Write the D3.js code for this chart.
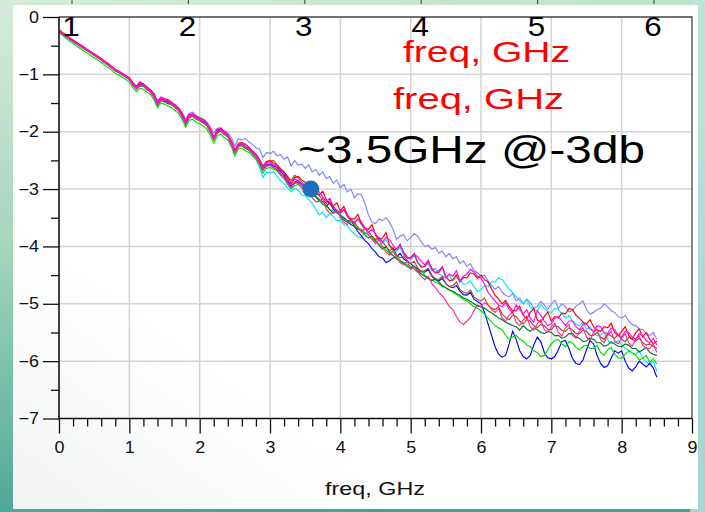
<!DOCTYPE html>
<html>
<head>
<meta charset="utf-8">
<script src="https://cdn.jsdelivr.net/npm/d3@7"></script>
<style>
  html, body { margin: 0; padding: 0; overflow: hidden; background: #ffffff; }
  svg { display: block; }
</style>
</head>
<body>
<svg id="chart" width="705" height="512"></svg>
<script>
// Swept frequency points, 0 to 8.5 GHz in 50 MHz steps
const freq = d3.range(0, 171).map(i => +(i * 0.05).toFixed(2));

const xTickValues = [0, 1, 2, 3, 4, 5, 6, 7, 8, 9];
const yTickValues = [0, -1, -2, -3, -4, -5, -6, -7];
const topNumbers = [1, 2, 3, 4, 5, 6];

const xLabel = "freq, GHz";
const noteLabels = ["freq, GHz", "freq, GHz"];
const bandwidthNote = "~3.5GHz @-3db";
const markerFreq = 3.58;
const markerDb = -3;

// Insertion loss traces, dB (one row = 0.5 GHz)
const lossPeriwinkle = [
  -0.24,-0.29,-0.33,-0.38,-0.42,-0.46,-0.50,-0.54,-0.58,-0.62,
  -0.66,-0.70,-0.74,-0.79,-0.83,-0.88,-0.93,-0.96,-1.00,-1.03,
  -1.08,-1.15,-1.22,-1.15,-1.16,-1.22,-1.27,-1.33,-1.45,-1.40,
  -1.42,-1.46,-1.48,-1.55,-1.58,-1.66,-1.78,-1.68,-1.66,-1.72,
  -1.75,-1.78,-1.82,-1.92,-2.02,-1.94,-1.93,-1.99,-2.02,-2.10,
  -2.25,-2.12,-2.14,-2.12,-2.18,-2.22,-2.28,-2.30,-2.45,-2.36,
  -2.38,-2.34,-2.42,-2.40,-2.48,-2.44,-2.60,-2.50,-2.58,-2.56,
  -2.64,-2.58,-2.70,-2.66,-2.76,-2.70,-2.82,-2.78,-2.90,-2.84,
  -2.98,-2.92,-3.05,-3.00,-3.15,-3.08,-3.10,-3.25,-3.45,-3.58,
  -3.60,-3.52,-3.55,-3.50,-3.58,-3.70,-3.88,-3.82,-3.80,-3.90,
  -3.85,-3.78,-3.82,-3.92,-4.00,-3.98,-4.05,-4.02,-4.12,-4.08,
  -4.18,-4.12,-4.22,-4.18,-4.30,-4.25,-4.35,-4.30,-4.42,-4.46,
  -4.52,-4.50,-4.60,-4.68,-4.75,-4.70,-4.80,-4.85,-4.88,-4.82,
  -4.95,-4.90,-5.00,-4.92,-4.98,-5.08,-5.05,-4.96,-5.02,-5.10,
  -5.00,-4.94,-5.08,-5.00,-5.05,-5.14,-5.12,-5.04,-5.00,-4.95,
  -5.10,-5.18,-5.15,-5.10,-5.08,-5.00,-5.05,-5.12,-5.15,-5.22,
  -5.25,-5.20,-5.30,-5.36,-5.38,-5.44,-5.45,-5.52,-5.55,-5.50,
  -5.62
];
const lossCyan = [
  -0.24,-0.29,-0.33,-0.38,-0.42,-0.46,-0.50,-0.54,-0.58,-0.62,
  -0.66,-0.70,-0.74,-0.79,-0.83,-0.88,-0.93,-0.96,-1.00,-1.04,
  -1.08,-1.18,-1.24,-1.17,-1.20,-1.26,-1.30,-1.38,-1.52,-1.44,
  -1.47,-1.50,-1.52,-1.58,-1.62,-1.72,-1.85,-1.74,-1.72,-1.78,
  -1.80,-1.83,-1.88,-1.98,-2.12,-2.00,-1.97,-2.03,-2.08,-2.18,
  -2.35,-2.22,-2.22,-2.27,-2.32,-2.38,-2.48,-2.62,-2.80,-2.70,
  -2.72,-2.70,-2.78,-2.86,-2.90,-2.98,-3.05,-2.98,-3.02,-3.10,
  -3.12,-3.18,-3.25,-3.35,-3.45,-3.40,-3.50,-3.42,-3.48,-3.55,
  -3.55,-3.62,-3.65,-3.72,-3.78,-3.84,-3.85,-3.76,-3.80,-3.86,
  -3.90,-3.84,-3.95,-3.88,-4.00,-4.06,-4.08,-4.02,-4.15,-4.20,
  -4.22,-4.16,-4.28,-4.34,-4.35,-4.30,-4.42,-4.38,-4.48,-4.52,
  -4.55,-4.50,-4.60,-4.54,-4.58,-4.66,-4.65,-4.60,-4.70,-4.78,
  -4.75,-4.68,-4.70,-4.62,-4.62,-4.55,-4.58,-4.66,-4.75,-4.80,
  -4.88,-4.95,-5.00,-4.94,-5.05,-5.10,-5.12,-5.02,-5.08,-5.14,
  -5.15,-5.08,-5.10,-5.18,-5.25,-5.20,-5.30,-5.36,-5.38,-5.32,
  -5.45,-5.40,-5.50,-5.56,-5.55,-5.50,-5.62,-5.70,-5.68,-5.64,
  -5.72,-5.78,-5.80,-5.86,-5.88,-5.82,-5.95,-6.02,-6.05,-6.00,
  -6.18
];
const lossBlue = [
  -0.24,-0.29,-0.33,-0.38,-0.42,-0.46,-0.50,-0.54,-0.58,-0.62,
  -0.66,-0.70,-0.74,-0.79,-0.83,-0.88,-0.93,-0.96,-1.00,-1.04,
  -1.08,-1.17,-1.23,-1.17,-1.19,-1.25,-1.29,-1.36,-1.50,-1.42,
  -1.45,-1.48,-1.51,-1.56,-1.61,-1.70,-1.84,-1.73,-1.71,-1.76,
  -1.79,-1.82,-1.87,-1.97,-2.11,-1.99,-1.96,-2.02,-2.07,-2.18,
  -2.34,-2.24,-2.21,-2.26,-2.30,-2.36,-2.42,-2.52,-2.65,-2.58,
  -2.56,-2.60,-2.62,-2.70,-2.75,-2.86,-2.95,-2.88,-2.85,-2.92,
  -2.98,-3.04,-3.08,-3.14,-3.20,-3.26,-3.30,-3.24,-3.35,-3.40,
  -3.45,-3.50,-3.55,-3.62,-3.65,-3.74,-3.82,-3.90,-3.95,-4.04,
  -4.10,-4.18,-4.20,-4.28,-4.25,-4.20,-4.18,-4.12,-4.22,-4.26,
  -4.30,-4.36,-4.38,-4.44,-4.45,-4.40,-4.52,-4.58,-4.60,-4.56,
  -4.65,-4.70,-4.72,-4.68,-4.78,-4.84,-4.85,-4.80,-4.92,-4.96,
  -5.00,-5.15,-5.35,-5.55,-5.75,-5.88,-5.93,-5.90,-5.70,-5.48,
  -5.62,-5.82,-5.92,-5.96,-5.90,-5.72,-5.58,-5.66,-5.85,-5.94,
  -5.96,-5.92,-5.80,-5.66,-5.64,-5.78,-5.95,-6.04,-6.06,-5.98,
  -5.80,-5.64,-5.70,-5.90,-6.04,-6.11,-6.08,-5.95,-5.82,-5.86,
  -5.82,-6.00,-6.12,-6.17,-6.10,-6.00,-6.05,-6.10,-6.04,-6.12,
  -6.28
];
const lossGreen = [
  -0.27,-0.32,-0.37,-0.42,-0.46,-0.51,-0.55,-0.59,-0.63,-0.67,
  -0.71,-0.75,-0.79,-0.84,-0.88,-0.93,-0.98,-1.01,-1.05,-1.09,
  -1.13,-1.23,-1.30,-1.24,-1.26,-1.31,-1.35,-1.44,-1.58,-1.50,
  -1.52,-1.55,-1.58,-1.63,-1.68,-1.78,-1.92,-1.80,-1.78,-1.83,
  -1.86,-1.90,-1.95,-2.06,-2.20,-2.08,-2.04,-2.10,-2.14,-2.26,
  -2.42,-2.30,-2.28,-2.33,-2.36,-2.42,-2.48,-2.58,-2.72,-2.64,
  -2.62,-2.66,-2.68,-2.76,-2.82,-2.92,-3.00,-2.94,-2.92,-2.96,
  -2.98,-3.05,-3.10,-3.14,-3.20,-3.26,-3.30,-3.36,-3.38,-3.42,
  -3.45,-3.52,-3.55,-3.58,-3.62,-3.68,-3.70,-3.76,-3.80,-3.86,
  -3.92,-3.96,-4.00,-4.06,-4.12,-4.08,-4.18,-4.24,-4.28,-4.32,
  -4.35,-4.40,-4.45,-4.42,-4.50,-4.56,-4.58,-4.62,-4.65,-4.70,
  -4.72,-4.76,-4.80,-4.84,-4.88,-4.92,-4.95,-5.00,-5.05,-5.08,
  -5.12,-5.18,-5.25,-5.32,-5.38,-5.42,-5.45,-5.55,-5.62,-5.58,
  -5.55,-5.62,-5.65,-5.72,-5.75,-5.82,-5.85,-5.92,-5.90,-5.80,
  -5.70,-5.64,-5.62,-5.70,-5.75,-5.66,-5.68,-5.76,-5.80,-5.74,
  -5.72,-5.78,-5.78,-5.72,-5.85,-5.90,-5.80,-5.76,-5.88,-5.94,
  -5.95,-5.88,-5.82,-5.86,-5.90,-5.98,-5.95,-5.90,-6.02,-5.96,
  -6.05
];
const lossDarkGreen = [
  -0.25,-0.30,-0.34,-0.39,-0.43,-0.47,-0.51,-0.55,-0.59,-0.63,
  -0.67,-0.71,-0.75,-0.80,-0.84,-0.89,-0.94,-0.97,-1.01,-1.05,
  -1.09,-1.19,-1.26,-1.20,-1.21,-1.27,-1.31,-1.40,-1.54,-1.46,
  -1.48,-1.51,-1.53,-1.58,-1.63,-1.74,-1.87,-1.76,-1.73,-1.78,
  -1.81,-1.85,-1.89,-2.00,-2.14,-2.03,-1.99,-2.05,-2.09,-2.22,
  -2.37,-2.26,-2.24,-2.29,-2.32,-2.38,-2.44,-2.54,-2.67,-2.60,
  -2.58,-2.63,-2.66,-2.74,-2.78,-2.90,-2.97,-2.90,-2.88,-2.92,
  -2.95,-3.02,-3.05,-3.12,-3.18,-3.22,-3.28,-3.36,-3.42,-3.38,
  -3.48,-3.54,-3.58,-3.52,-3.65,-3.70,-3.72,-3.80,-3.85,-3.82,
  -3.90,-3.98,-4.05,-4.00,-4.10,-4.16,-4.22,-4.26,-4.30,-4.35,
  -4.38,-4.34,-4.42,-4.48,-4.52,-4.56,-4.60,-4.56,-4.62,-4.68,
  -4.72,-4.76,-4.78,-4.82,-4.85,-4.90,-4.92,-4.96,-5.00,-5.04,
  -5.05,-5.08,-5.12,-5.16,-5.20,-5.25,-5.28,-5.32,-5.35,-5.38,
  -5.40,-5.46,-5.38,-5.44,-5.48,-5.42,-5.45,-5.50,-5.52,-5.48,
  -5.50,-5.56,-5.55,-5.60,-5.58,-5.52,-5.52,-5.58,-5.60,-5.66,
  -5.65,-5.60,-5.62,-5.68,-5.68,-5.74,-5.72,-5.66,-5.70,-5.74,
  -5.75,-5.70,-5.72,-5.78,-5.78,-5.84,-5.80,-5.76,-5.85,-5.88,
  -5.90
];
const lossBrown = [
  -0.24,-0.29,-0.33,-0.38,-0.42,-0.46,-0.50,-0.54,-0.58,-0.62,
  -0.66,-0.70,-0.74,-0.79,-0.83,-0.88,-0.93,-0.96,-1.00,-1.04,
  -1.08,-1.18,-1.24,-1.18,-1.20,-1.26,-1.30,-1.38,-1.52,-1.44,
  -1.47,-1.50,-1.52,-1.57,-1.62,-1.72,-1.85,-1.74,-1.72,-1.76,
  -1.80,-1.84,-1.88,-1.98,-2.12,-2.01,-1.97,-2.03,-2.08,-2.20,
  -2.35,-2.24,-2.22,-2.26,-2.30,-2.36,-2.42,-2.50,-2.62,-2.55,
  -2.52,-2.50,-2.58,-2.64,-2.70,-2.78,-2.85,-2.76,-2.80,-2.88,
  -2.95,-2.98,-3.05,-3.00,-3.12,-3.18,-3.25,-3.20,-3.32,-3.38,
  -3.40,-3.36,-3.48,-3.54,-3.58,-3.52,-3.62,-3.70,-3.75,-3.82,
  -3.88,-3.84,-3.92,-4.00,-4.08,-4.02,-4.15,-4.20,-4.18,-4.24,
  -4.30,-4.26,-4.38,-4.44,-4.42,-4.38,-4.50,-4.56,-4.58,-4.52,
  -4.65,-4.70,-4.68,-4.62,-4.75,-4.80,-4.82,-4.76,-4.88,-4.92,
  -4.95,-4.90,-5.02,-5.08,-5.10,-5.05,-5.18,-5.24,-5.28,-5.20,
  -5.22,-5.30,-5.35,-5.28,-5.30,-5.38,-5.42,-5.36,-5.38,-5.45,
  -5.45,-5.38,-5.40,-5.46,-5.48,-5.42,-5.45,-5.52,-5.52,-5.46,
  -5.48,-5.55,-5.55,-5.50,-5.58,-5.62,-5.52,-5.56,-5.60,-5.54,
  -5.62,-5.66,-5.58,-5.62,-5.65,-5.60,-5.68,-5.72,-5.70,-5.74,
  -5.78
];
const lossRed = [
  -0.22,-0.27,-0.31,-0.36,-0.40,-0.44,-0.48,-0.52,-0.56,-0.60,
  -0.64,-0.68,-0.72,-0.77,-0.81,-0.86,-0.91,-0.94,-0.98,-1.02,
  -1.06,-1.14,-1.21,-1.13,-1.17,-1.22,-1.27,-1.34,-1.49,-1.40,
  -1.43,-1.44,-1.49,-1.53,-1.59,-1.68,-1.82,-1.70,-1.69,-1.73,
  -1.77,-1.79,-1.85,-1.95,-2.09,-1.96,-1.94,-1.99,-2.05,-2.16,
  -2.32,-2.20,-2.19,-2.22,-2.27,-2.33,-2.39,-2.48,-2.60,-2.52,
  -2.50,-2.55,-2.58,-2.66,-2.70,-2.80,-2.90,-2.80,-2.78,-2.84,
  -2.88,-2.96,-3.00,-3.08,-3.10,-3.04,-3.18,-3.26,-3.30,-3.24,
  -3.38,-3.30,-3.45,-3.52,-3.52,-3.44,-3.60,-3.68,-3.70,-3.62,
  -3.80,-3.90,-3.85,-3.76,-3.98,-4.06,-4.05,-3.96,-4.12,-4.20,
  -4.20,-4.12,-4.28,-4.36,-4.35,-4.26,-4.38,-4.46,-4.45,-4.36,
  -4.52,-4.60,-4.58,-4.50,-4.62,-4.54,-4.55,-4.46,-4.48,-4.56,
  -4.50,-4.58,-4.62,-4.74,-4.85,-4.92,-5.00,-4.94,-5.05,-5.12,
  -5.12,-5.04,-5.20,-5.26,-5.15,-5.08,-5.28,-5.32,-5.22,-5.14,
  -5.30,-5.22,-5.25,-5.16,-5.18,-5.08,-5.10,-5.20,-5.25,-5.32,
  -5.35,-5.28,-5.40,-5.46,-5.48,-5.40,-5.42,-5.34,-5.50,-5.56,
  -5.48,-5.40,-5.55,-5.62,-5.50,-5.44,-5.58,-5.50,-5.62,-5.70,
  -5.65
];
const lossPink = [
  -0.24,-0.29,-0.33,-0.38,-0.42,-0.46,-0.50,-0.54,-0.58,-0.62,
  -0.66,-0.70,-0.74,-0.79,-0.83,-0.88,-0.93,-0.96,-1.00,-1.04,
  -1.08,-1.19,-1.25,-1.19,-1.20,-1.26,-1.30,-1.39,-1.53,-1.45,
  -1.46,-1.49,-1.52,-1.57,-1.63,-1.74,-1.86,-1.75,-1.72,-1.77,
  -1.80,-1.84,-1.89,-2.00,-2.14,-2.02,-1.98,-2.04,-2.08,-2.22,
  -2.36,-2.26,-2.23,-2.27,-2.31,-2.38,-2.44,-2.56,-2.66,-2.60,
  -2.58,-2.62,-2.65,-2.74,-2.80,-2.90,-2.98,-2.88,-2.90,-2.98,
  -3.05,-3.00,-3.15,-3.22,-3.22,-3.16,-3.35,-3.42,-3.42,-3.36,
  -3.50,-3.58,-3.62,-3.54,-3.58,-3.66,-3.75,-3.68,-3.80,-3.88,
  -3.95,-3.88,-4.02,-4.10,-4.15,-4.08,-4.20,-4.28,-4.32,-4.26,
  -4.40,-4.36,-4.45,-4.52,-4.58,-4.52,-4.65,-4.72,-4.80,-4.86,
  -4.95,-5.05,-5.10,-5.22,-5.32,-5.36,-5.30,-5.24,-5.12,-5.02,
  -5.05,-4.98,-5.02,-5.10,-5.15,-5.08,-5.25,-5.30,-5.20,-5.14,
  -5.32,-5.38,-5.28,-5.22,-5.40,-5.46,-5.35,-5.28,-5.45,-5.50,
  -5.40,-5.34,-5.50,-5.56,-5.42,-5.36,-5.55,-5.60,-5.48,-5.42,
  -5.58,-5.64,-5.50,-5.44,-5.62,-5.68,-5.55,-5.48,-5.65,-5.70,
  -5.60,-5.52,-5.68,-5.74,-5.62,-5.56,-5.72,-5.78,-5.78,-5.70,
  -5.85
];
const lossMagenta = [
  -0.23,-0.28,-0.32,-0.37,-0.41,-0.45,-0.49,-0.53,-0.57,-0.61,
  -0.65,-0.69,-0.73,-0.78,-0.82,-0.87,-0.92,-0.95,-0.99,-1.03,
  -1.07,-1.15,-1.22,-1.14,-1.18,-1.23,-1.28,-1.36,-1.50,-1.40,
  -1.44,-1.45,-1.50,-1.54,-1.60,-1.70,-1.83,-1.70,-1.70,-1.74,
  -1.78,-1.80,-1.86,-1.96,-2.10,-1.97,-1.95,-2.00,-2.06,-2.18,
  -2.33,-2.22,-2.20,-2.22,-2.28,-2.34,-2.40,-2.50,-2.62,-2.54,
  -2.52,-2.58,-2.60,-2.68,-2.72,-2.84,-2.92,-2.82,-2.85,-2.92,
  -2.98,-3.06,-3.08,-3.00,-3.05,-3.14,-3.22,-3.16,-3.30,-3.38,
  -3.42,-3.36,-3.45,-3.54,-3.60,-3.52,-3.58,-3.68,-3.75,-3.70,
  -3.78,-3.86,-3.92,-3.84,-3.88,-3.98,-4.05,-3.98,-4.10,-4.18,
  -4.22,-4.14,-4.18,-4.26,-4.32,-4.24,-4.40,-4.46,-4.42,-4.36,
  -4.55,-4.48,-4.52,-4.42,-4.60,-4.52,-4.48,-4.40,-4.45,-4.52,
  -4.55,-4.66,-4.80,-4.88,-4.95,-5.02,-5.05,-4.98,-5.10,-5.16,
  -5.02,-5.10,-5.18,-5.10,-5.25,-5.32,-5.12,-5.20,-5.30,-5.38,
  -5.35,-5.26,-5.22,-5.30,-5.38,-5.30,-5.30,-5.40,-5.45,-5.36,
  -5.35,-5.44,-5.48,-5.38,-5.40,-5.50,-5.52,-5.42,-5.45,-5.54,
  -5.58,-5.48,-5.50,-5.58,-5.62,-5.52,-5.55,-5.64,-5.68,-5.60,
  -5.72
];

// Drawing order: first drawn ends up underneath
const traces = [
  { color: "#8080ff", values: lossPeriwinkle },
  { color: "#00e5ff", values: lossCyan },
  { color: "#0000ff", values: lossBlue },
  { color: "#00e000", values: lossGreen },
  { color: "#007a20", values: lossDarkGreen },
  { color: "#a0522d", values: lossBrown },
  { color: "#ff0000", values: lossRed },
  { color: "#ff2a96", values: lossPink },
  { color: "#ff00ff", values: lossMagenta }
];

const W = 705, H = 512;
const plot = { left: 59, right: 692, top: 17, bottom: 418.5 };
const FONT = "'Liberation Sans', Arial, sans-serif";

const svg = d3.select("#chart");
const defs = svg.append("defs");

// slide backdrop
const bg = defs.append("linearGradient").attr("id", "bgGrad")
  .attr("x1", 0).attr("y1", 0).attr("x2", 0.25).attr("y2", 1);
bg.append("stop").attr("offset", 0).attr("stop-color", "#d6ecd8");
bg.append("stop").attr("offset", 0.45).attr("stop-color", "#a6d6bc");
bg.append("stop").attr("offset", 1).attr("stop-color", "#45a394");

const panelGrad = defs.append("linearGradient").attr("id", "panelGrad")
  .attr("x1", 1).attr("y1", 0).attr("x2", 0).attr("y2", 1);
panelGrad.append("stop").attr("offset", 0).attr("stop-color", "#ffffff");
panelGrad.append("stop").attr("offset", 0.7).attr("stop-color", "#ffffff");
panelGrad.append("stop").attr("offset", 1).attr("stop-color", "#f2f4f4");

defs.append("clipPath").attr("id", "plotClip")
  .append("rect")
  .attr("x", plot.left).attr("y", plot.top)
  .attr("width", plot.right - plot.left).attr("height", plot.bottom - plot.top);

svg.append("rect").attr("width", W).attr("height", H).attr("fill", "url(#bgGrad)");
svg.append("rect").attr("x", 690).attr("y", 0).attr("width", 15).attr("height", H)
  .attr("fill", "#bfe2df").attr("opacity", 0.8);
svg.append("rect").attr("x", 13).attr("y", 5).attr("width", 685).attr("height", 504)
  .attr("fill", "url(#panelGrad)");

// tick stubs of the chart above, peeking in at the top edge
const topScale = d3.scaleLinear().domain([1, 6]).range([71, 653]);
svg.append("g").selectAll("line").data(topNumbers).join("line")
  .attr("x1", d => topScale(d) + 1).attr("x2", d => topScale(d) + 1)
  .attr("y1", 0).attr("y2", 4)
  .attr("stroke", "#555").attr("stroke-width", 1.2);

const x = d3.scaleLinear().domain([0, 9]).range([plot.left, plot.right]);
const y = d3.scaleLinear().domain([-7, 0]).range([plot.bottom, plot.top]);

// grid
const grid = svg.append("g").attr("stroke", "#d3d3d3").attr("stroke-width", 1.5);
grid.selectAll("line.v").data(xTickValues.filter(v => v > 0 && v < 9)).join("line")
  .attr("class", "v")
  .attr("x1", d => x(d)).attr("x2", d => x(d))
  .attr("y1", plot.top).attr("y2", plot.bottom);
grid.selectAll("line.h").data(yTickValues.filter(v => v < 0 && v > -7)).join("line")
  .attr("class", "h")
  .attr("x1", plot.left).attr("x2", plot.right)
  .attr("y1", d => y(d)).attr("y2", d => y(d));

// frame top / right
svg.append("path")
  .attr("d", `M${plot.left},${plot.top}H${plot.right}V${plot.bottom}`)
  .attr("fill", "none").attr("stroke", "#444").attr("stroke-width", 1.3);

// traces
const line = d3.line().x((d, i) => x(freq[i])).y(d => y(d));
svg.append("g").attr("clip-path", "url(#plotClip)")
  .selectAll("path").data(traces).join("path")
  .attr("d", d => line(d.values))
  .attr("fill", "none")
  .attr("stroke", d => d.color)
  .attr("stroke-width", 1.15)
  .attr("stroke-linejoin", "miter");

// axes
const yAxis = svg.append("g").attr("transform", `translate(${plot.left},0)`)
  .call(d3.axisLeft(y).tickValues(yTickValues).tickSize(16).tickPadding(4)
    .tickFormat(d3.format("d")));
const yMinor = svg.append("g").attr("transform", `translate(${plot.left},0)`)
  .call(d3.axisLeft(y).tickValues(d3.range(-6.5, 0, 1)).tickSize(8).tickFormat(""));

const xAxis = svg.append("g").attr("transform", `translate(0,${plot.bottom})`)
  .call(d3.axisBottom(x).tickValues(xTickValues).tickSize(15).tickPadding(8)
    .tickFormat(d3.format("d")));
const xMinorVals = d3.range(0, 45).map(i => i / 5).filter(v => Math.abs(v - Math.round(v)) > 1e-6);
const xMinor = svg.append("g").attr("transform", `translate(0,${plot.bottom})`)
  .call(d3.axisBottom(x).tickValues(xMinorVals).tickSize(8).tickFormat(""));

[yAxis, yMinor, xAxis, xMinor].forEach(g => {
  g.select(".domain").attr("stroke", "#111").attr("stroke-width", 1.6);
  g.selectAll(".tick line").attr("stroke", "#111").attr("stroke-width", 1.3);
  g.selectAll("text").attr("fill", "#111").style("font-family", FONT).style("font-size", "16px");
});
yMinor.select(".domain").remove();
xMinor.select(".domain").remove();
yAxis.select(".domain").attr("d", `M0,${plot.top}V${plot.bottom}`);
xAxis.select(".domain").attr("d", `M${plot.left},0H${plot.right}`);

// slight horizontal stretch on the text
function widen(sel, k) {
  sel.each(function () {
    const len = this.getComputedTextLength();
    d3.select(this).attr("textLength", len * k).attr("lengthAdjust", "spacingAndGlyphs");
  });
}
widen(yAxis.selectAll("text"), 1.12);
widen(xAxis.selectAll("text"), 1.12);

// axis title
svg.append("text")
  .attr("x", 375).attr("y", 495).attr("text-anchor", "middle")
  .style("font-family", FONT).style("font-size", "19px").attr("fill", "#111")
  .attr("textLength", 100).attr("lengthAdjust", "spacingAndGlyphs")
  .text(xLabel);

// numbers from the chart above
svg.append("g").selectAll("text").data(topNumbers).join("text")
  .attr("x", d => topScale(d)).attr("y", 36).attr("text-anchor", "middle")
  .style("font-family", FONT).style("font-size", "28px").attr("fill", "#000")
  .text(d => d)
  .call(sel => widen(sel, 1.12));

// red notes
const noteX = [403, 393];
const noteY = [62, 109];
const noteW = [167, 171];
svg.append("g").selectAll("text").data(noteLabels).join("text")
  .attr("x", (d, i) => noteX[i]).attr("y", (d, i) => noteY[i])
  .style("font-family", FONT).style("font-size", "30px").attr("fill", "#ff0000")
  .attr("textLength", (d, i) => noteW[i]).attr("lengthAdjust", "spacingAndGlyphs")
  .text(d => d);

// bandwidth note
svg.append("text")
  .attr("x", 298).attr("y", 163)
  .style("font-family", FONT).style("font-size", "39px").attr("fill", "#000")
  .attr("textLength", 347).attr("lengthAdjust", "spacingAndGlyphs")
  .text(bandwidthNote);

// -3 dB marker
svg.append("circle")
  .attr("cx", x(markerFreq)).attr("cy", y(markerDb)).attr("r", 8.5)
  .attr("fill", "#1f6fba");
</script>
</body>
</html>
